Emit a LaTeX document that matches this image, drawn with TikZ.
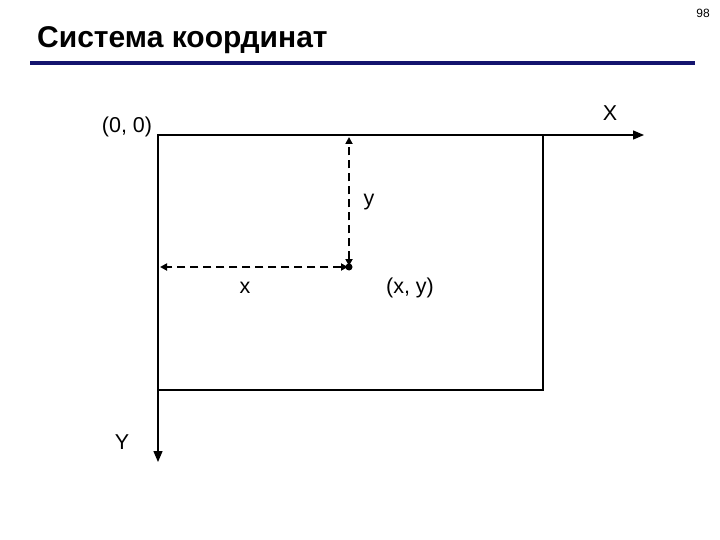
\documentclass[tikz,border=0pt]{standalone}
\usepackage{fontspec}
\setmainfont{Liberation Sans}
\usetikzlibrary{arrows.meta}
\definecolor{navy}{RGB}{20,20,110}
\begin{document}
\begin{tikzpicture}[x=1pt,y=-1pt,
  lbl/.style={inner sep=0pt, font=\fontsize{21.5}{24}\selectfont},
  axis/.style={line width=1.3pt, -{Triangle[length=11pt,width=9pt]}},
  dim/.style={line width=2.6pt, dash pattern=on 8pt off 5pt, {Triangle[length=7pt,width=7pt]}-{Triangle[length=7pt,width=7pt]}, shorten <=1pt}]
\useasboundingbox (0,0) rectangle (720,540);
\node[inner sep=0pt, font=\fontsize{12}{14}\selectfont] (pg) at (703,13) {98};
\node[inner sep=0pt, anchor=west, font=\bfseries\fontsize{30}{33}\selectfont] (title) at (37,40) {Система координат};
\coordinate (rl) at (30,63);
\coordinate (rr) at (695,63);
\draw[navy, line width=3.2pt] (rl) -- (rr);
\coordinate (o) at (158,135);
\coordinate (c) at (543,390);
\coordinate (bl) at (158,390);
\coordinate (tr) at (543,135);
\coordinate (xe) at (644,135);
\coordinate (ye) at (158,462);
\draw[line width=2.4pt] (o) rectangle (c);
\draw[axis] (tr) -- (xe);
\draw[axis] (bl) -- (ye);
\coordinate (p) at (349,267);
\coordinate (pt) at (349,137);
\coordinate (pl) at (160,267);
\draw[dim] (p) -- (pt);
\draw[dim] (p) -- (pl);
\fill (p) circle (3.5pt);
\node[lbl] (l00) at (127,127) {(0, 0)};
\node[lbl] (lX) at (610,113) {X};
\node[lbl] (ly) at (369,202) {y};
\node[lbl] (lx) at (245,288) {x};
\node[lbl] (lxy) at (410,288) {(x, y)};
\node[lbl] (lY) at (122,442) {Y};
\end{tikzpicture}
\end{document}
